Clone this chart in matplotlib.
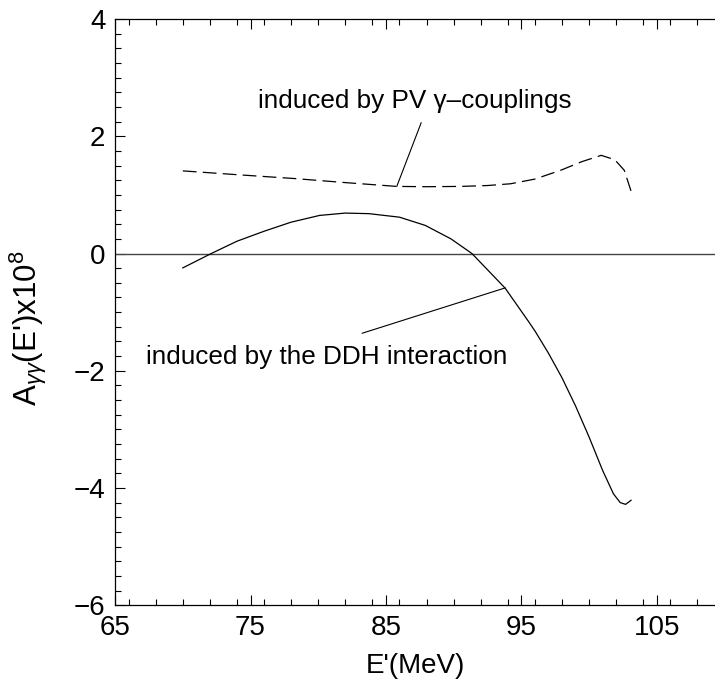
import matplotlib
matplotlib.use('Agg')
import matplotlib.pyplot as plt
from matplotlib.ticker import MultipleLocator

plt.rcParams['font.family'] = ['Liberation Sans', 'DejaVu Sans']
plt.rcParams['mathtext.fontset'] = 'custom'
plt.rcParams['mathtext.rm'] = 'Liberation Sans'
plt.rcParams['mathtext.it'] = 'Liberation Sans:italic'

# asymmetry induced by the DDH interaction (solid)
ddh_E = [70.0, 72.1, 74.0, 76.0, 78.0, 80.1, 82.0, 83.75, 86.0, 87.9, 89.8,
         91.35, 93.8, 95.5, 96.0, 97.0, 98.0, 99.0, 100.0, 101.0, 101.8,
         102.3, 102.7, 103.1]
ddh_A = [-0.245, 0.0, 0.21, 0.38, 0.535, 0.65, 0.69, 0.68, 0.62, 0.48, 0.25,
         0.0, -0.59, -1.15, -1.32, -1.70, -2.12, -2.60, -3.13, -3.70, -4.10,
         -4.25, -4.28, -4.21]

# asymmetry induced by PV gamma couplings (dashed)
pv_E = [70.0, 74.0, 78.2, 82.0, 85.8, 88.0, 90.5, 92.5, 94.2, 96.0, 97.9,
        99.5, 100.9, 101.9, 102.6, 103.1]
pv_A = [1.41, 1.345, 1.28, 1.21, 1.145, 1.14, 1.145, 1.16, 1.19, 1.27, 1.42,
        1.57, 1.675, 1.60, 1.42, 1.065]

x_ticks = [65, 75, 85, 95, 105]
y_ticks = [-6, -4, -2, 0, 2, 4]

fig = plt.figure(figsize=(7.15, 6.94), dpi=100)
ax = fig.add_axes([0.161, 0.128, 0.839, 0.8445])

ax.axhline(0, color='#444444', lw=1.0)
ax.plot(ddh_E, ddh_A, color='black', lw=0.9)
ax.plot(pv_E, pv_A, color='black', lw=0.9, linestyle=(0, (11, 5)))

# labels with pointer lines
ax.text(87.1, 2.60, u'induced by PV \u03b3\u2013couplings', fontsize=18.8,
        ha='center', va='center')
ax.plot([85.8, 87.6], [1.145, 2.23], color='black', lw=0.8)
ax.text(80.66, -1.76, 'induced by the DDH interaction', fontsize=18.8,
        ha='center', va='center')
ax.plot([93.8, 83.25], [-0.587, -1.36], color='black', lw=0.8)

ax.set_xlim(65, 109.3)
ax.set_ylim(-6, 4)
ax.set_xticks(x_ticks)
ax.set_yticks(y_ticks)
ax.set_yticklabels([u'\u2212%d' % -v if v < 0 else '%d' % v for v in y_ticks])
ax.xaxis.set_minor_locator(MultipleLocator(2))
ax.yaxis.set_minor_locator(MultipleLocator(0.25))
ax.tick_params(which='both', direction='in', top=True, right=False,
               labelsize=20, width=0.8)
ax.tick_params(which='major', length=7, pad=7)
ax.tick_params(which='minor', length=4)
ax.spines['right'].set_visible(False)
for s in ['left', 'top', 'bottom']:
    ax.spines[s].set_linewidth(0.9)

ax.set_xlabel("E'(MeV)", fontsize=20, labelpad=9)
ax.set_ylabel(r"A$_{\gamma\gamma}$(E')x10$^8$", fontsize=22.5)
ax.yaxis.set_label_coords(-0.11, 0.473)

fig.savefig('out.png', dpi=100)
